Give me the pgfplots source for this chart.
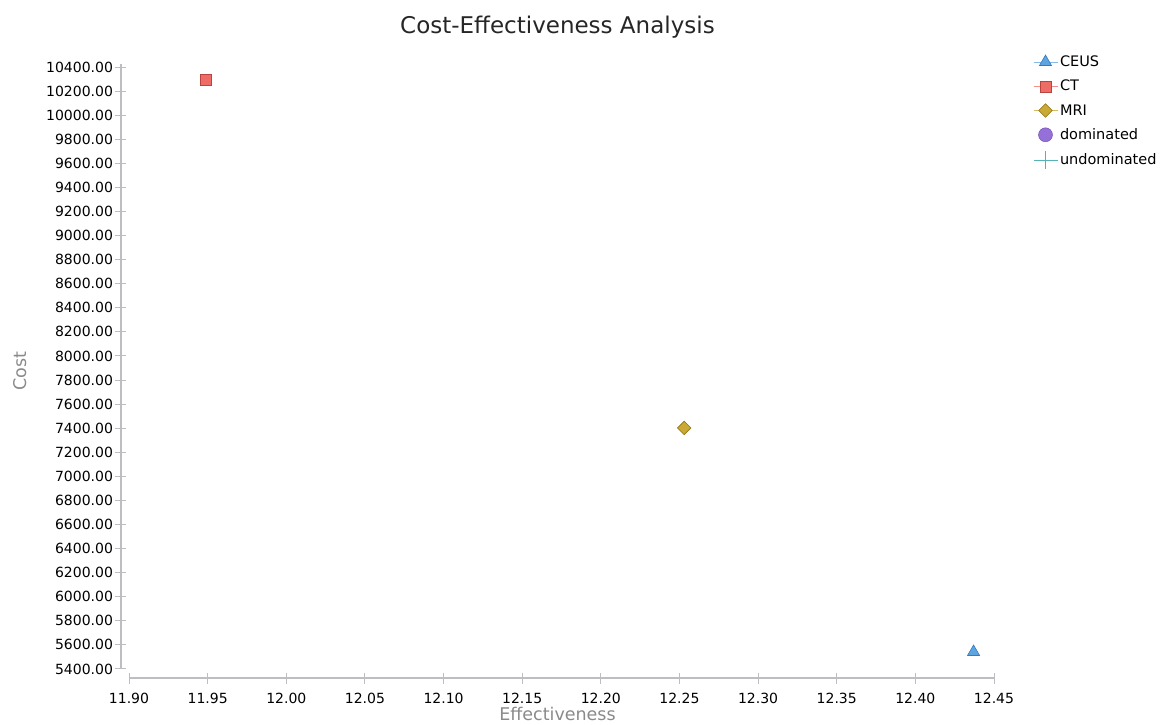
\documentclass[border=0pt]{standalone}
\usepackage{fontspec}
\setmainfont{DejaVu Sans}
\usepackage{pgfplots}
\pgfplotsset{compat=1.18}

\definecolor{ceus}{HTML}{5DA5E0}
\definecolor{ceusdk}{HTML}{3A78B8}
\definecolor{ct}{HTML}{EE6B66}
\definecolor{ctdk}{HTML}{B84440}
\definecolor{mri}{HTML}{CBA935}
\definecolor{mridk}{HTML}{8F7418}
\definecolor{dom}{HTML}{9470D8}
\definecolor{domdk}{HTML}{6A48B0}
\definecolor{undom}{HTML}{55B3B8}
\definecolor{axgrey}{HTML}{BDBDC2}
\definecolor{labgrey}{HTML}{8A8A8A}

\begin{document}
\begin{tikzpicture}
\begin{axis}[
    scale only axis,
    width=873pt, height=614pt,
    xmin=11.8949, xmax=12.45,
    ymin=5325, ymax=10425,
    axis lines=left,
    axis line style={-, draw=axgrey, line width=1.2pt},
    x axis line style={shorten <=8pt},
    y axis line style={shorten <=9pt},
    xtick={11.90,11.95,...,12.46},
    ytick={5400,5600,...,10400},
    scaled x ticks=false, scaled y ticks=false,
    tick align=center,
    major tick length=11pt,
    tick style={draw=axgrey, line width=1pt},
    /pgf/number format/.cd, fixed, fixed zerofill, precision=2, 1000 sep={}, assume math mode=true,
    /pgfplots/.cd,
    ticklabel style={font=\fontsize{14}{15}\selectfont, text=black},
    xticklabel style={yshift=-6pt},
    yticklabel style={xshift=1pt},
    title={Cost-Effectiveness Analysis},
    title style={font=\fontsize{23}{26}\selectfont, text=black!85, yshift=16pt},
    xlabel={Effectiveness},
    ylabel={Cost},
    label style={font=\fontsize{17.5}{20}\selectfont, text=labgrey},
    xlabel style={yshift=3pt},
    ylabel style={yshift=13pt},
    legend style={at={(1.041,1.02)}, anchor=north west, draw=none, fill=none,
        font=\fontsize{14.5}{15}\selectfont, row sep=8pt},
    legend cell align=left,
    legend image code/.code={\draw[mark repeat=2,mark phase=2]
        plot coordinates {(0pt,0pt) (12pt,0pt) (24pt,0pt)};},
    clip=false,
]
\addplot[draw=ceus!75, line width=1pt, mark=triangle*, mark size=7pt,
    mark options={fill=ceus, draw=ceusdk, line width=0.6pt}]
    coordinates {(12.437,5541)};
\addlegendentry{CEUS}
\addplot[draw=ct!75, line width=1pt, mark=square*, mark size=5.5pt,
    mark options={fill=ct, draw=ctdk, line width=0.6pt}]
    coordinates {(11.949,10292)};
\addlegendentry{CT}
\addplot[draw=mri!80, line width=1pt, mark=square*, mark size=4.8pt,
    mark options={rotate=45, fill=mri, draw=mridk, line width=0.6pt}]
    coordinates {(12.253,7402)};
\addlegendentry{MRI}
\addlegendimage{legend image code/.code={\draw[mark=*, mark size=7pt, fill=dom, draw=domdk]
    plot coordinates {(12pt,0pt)};}}
\addlegendentry{dominated}
\addlegendimage{draw=undom, line width=1pt, mark=+, mark size=9pt,
    mark options={draw=undom, line width=1pt}}
\addlegendentry{undominated}
\end{axis}
\pgfresetboundingbox
\useasboundingbox (-121pt,-46pt) rectangle (1042pt,678pt);
\end{tikzpicture}
\end{document}
